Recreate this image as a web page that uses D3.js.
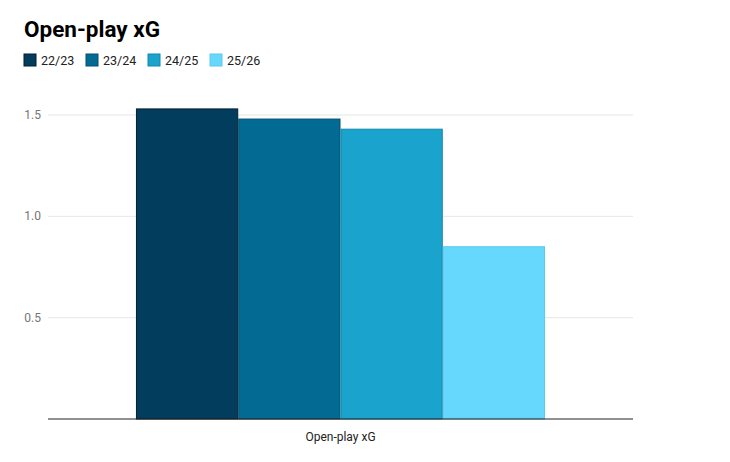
<!DOCTYPE html>
<html>
<head>
<meta charset="utf-8">
<script src="https://cdn.jsdelivr.net/npm/d3@7"></script>
<style>
  body { margin: 0; background: #fff; font-family: Roboto, sans-serif; }
</style>
</head>
<body>
<script>
// data
const categories = ['Open-play xG'];
const seasons = ['22/23', '23/24', '24/25', '25/26'];
const values = [1.53, 1.48, 1.43, 0.85];
const yTicks = [0.5, 1.0, 1.5];
const colors = ['#023d5e', '#036b93', '#1aa3cc', '#67d8fd'];
const strokes = ['#011f30', '#02506e', '#1188ab', '#5cc8ea'];

const width = 730, height = 462;
const margin = { top: 115, right: 97, bottom: 43, left: 48 };

const svg = d3.select('body').append('svg')
    .attr('width', width)
    .attr('height', height);

// title
svg.append('text')
    .attr('x', 24).attr('y', 37)
    .attr('font-size', 22.5).attr('font-weight', 700)
    .attr('fill', '#000')
    .text('Open-play xG');

// legend
const legend = svg.append('g').attr('transform', 'translate(24, 54)');
const li = legend.selectAll('g').data(seasons).join('g')
    .attr('transform', (d, i) => `translate(${i * 62}, 0)`);
li.append('rect')
    .attr('width', 12).attr('height', 12)
    .attr('fill', (d, i) => colors[i])
    .attr('stroke', (d, i) => strokes[i]);
li.append('text')
    .attr('x', 17).attr('y', 11)
    .attr('font-size', 12.5).attr('fill', '#222')
    .text(d => d);

const yScale = d3.scaleLinear()
    .domain([0, 1.5])
    .range([height - margin.bottom, margin.top]);

const x0 = d3.scaleBand()
    .domain(categories)
    .range([margin.left, width - margin.right])
    .paddingOuter(0.215);

const x1 = d3.scaleBand()
    .domain(seasons)
    .range([x0(categories[0]), x0(categories[0]) + x0.bandwidth()]);

// gridlines
svg.append('g').selectAll('line').data(yTicks).join('line')
    .attr('x1', margin.left).attr('x2', width - margin.right)
    .attr('y1', d => yScale(d)).attr('y2', d => yScale(d))
    .attr('stroke', '#e6e6e6');

// y tick labels
svg.append('g').selectAll('text').data(yTicks).join('text')
    .attr('x', 41).attr('y', d => yScale(d) + 4)
    .attr('text-anchor', 'end')
    .attr('font-size', 12).attr('fill', '#757575')
    .text(d => d.toFixed(1));

// bars
svg.append('g').selectAll('rect').data(values).join('rect')
    .attr('x', (d, i) => x1(seasons[i]) + 0.5)
    .attr('width', x1.bandwidth() - 1)
    .attr('y', d => yScale(d))
    .attr('height', d => yScale(0) - yScale(d))
    .attr('fill', (d, i) => colors[i])
    .attr('stroke', (d, i) => strokes[i]);

// baseline
svg.append('line')
    .attr('x1', margin.left).attr('x2', width - margin.right)
    .attr('y1', yScale(0)).attr('y2', yScale(0))
    .attr('stroke', '#222').attr('stroke-width', 1.2);

// category label
svg.append('g').selectAll('text').data(categories).join('text')
    .attr('x', d => x0(d) + x0.bandwidth() / 2)
    .attr('y', yScale(0) + 22)
    .attr('text-anchor', 'middle')
    .attr('font-size', 12).attr('fill', '#222')
    .text(d => d);
</script>
</body>
</html>
